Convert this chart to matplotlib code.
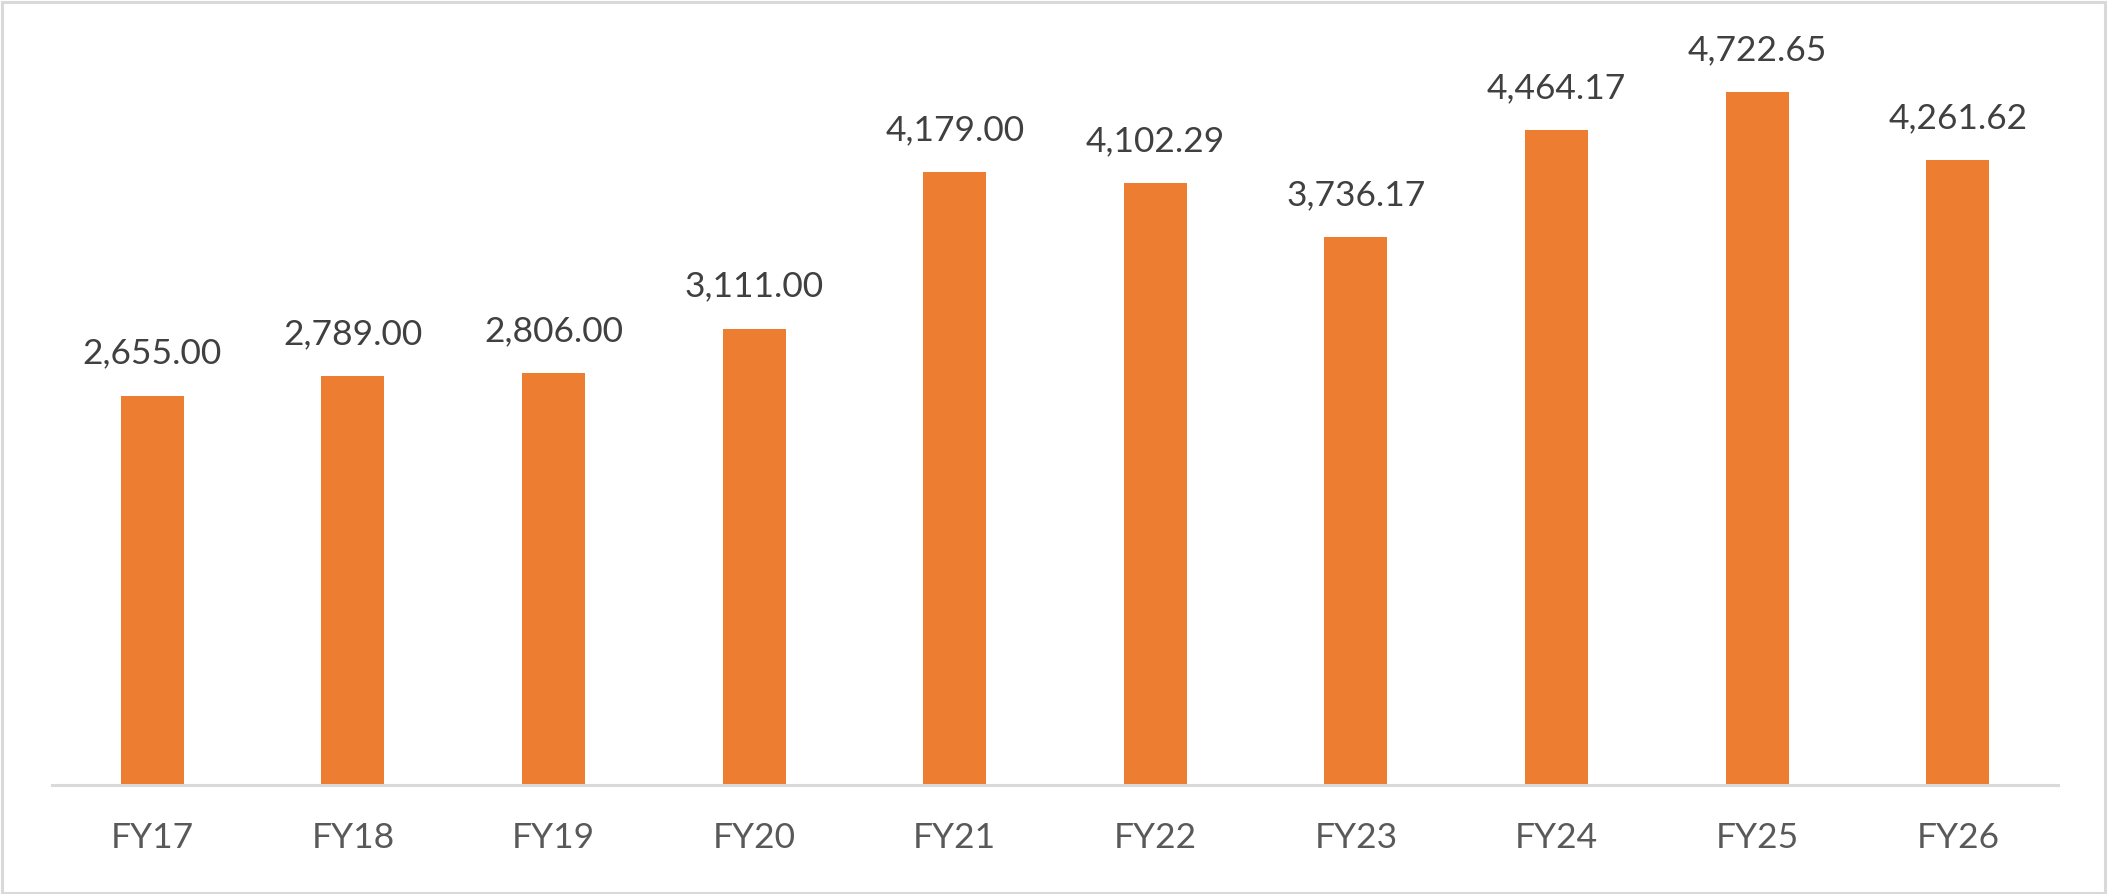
import matplotlib.pyplot as plt
from matplotlib.patches import Rectangle

years = ['FY17', 'FY18', 'FY19', 'FY20', 'FY21', 'FY22', 'FY23', 'FY24', 'FY25', 'FY26']
values = [2655.00, 2789.00, 2806.00, 3111.00, 4179.00, 4102.29, 3736.17, 4464.17, 4722.65, 4261.62]

plt.rcParams['font.family'] = ['Lato', 'DejaVu Sans']

fig = plt.figure(figsize=(21.09, 8.94), dpi=100)
ax = fig.add_axes([0.02466, 0.1214, 0.9512, 0.8212])

x = range(len(years))
bars = ax.bar(x, values, width=0.314, color='#ED7D31')

# value labels above each bar
for b, v in zip(bars, values):
    ax.annotate(f'{v:,.2f}', (b.get_x() + b.get_width() / 2, b.get_height()),
                xytext=(0, 23), textcoords='offset points',
                ha='center', va='baseline', fontsize=25.5, color='#404040')

ax.set_xlim(-0.5, len(years) - 0.5)
ax.set_ylim(0, 5000)
ax.set_xticks(list(x))
ax.set_xticklabels(years)
ax.set_yticks([])
ax.tick_params(axis='x', length=0, pad=26, labelsize=25.5, labelcolor='#595959')

for s in ['top', 'left', 'right']:
    ax.spines[s].set_visible(False)
ax.spines['bottom'].set_color('#d9d9d9')
ax.spines['bottom'].set_linewidth(2.2)

# light grey frame around the whole chart
fig.patches.append(Rectangle((0.0008, 0.0015), 0.9975, 0.996, transform=fig.transFigure,
                             fill=False, edgecolor='#d9d9d9', linewidth=2.2))

fig.savefig('out.png', dpi=100)
